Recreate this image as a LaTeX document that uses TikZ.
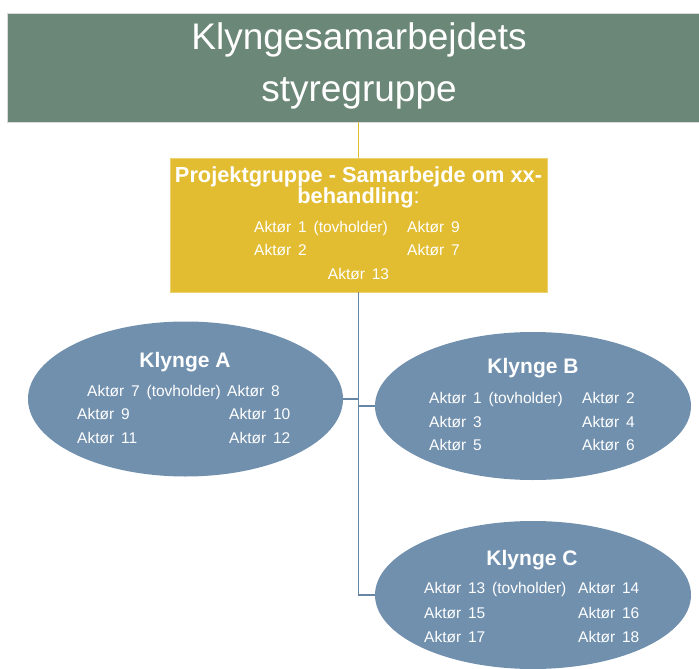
\documentclass[tikz,border=0pt]{standalone}
\usepackage{fontspec}
\setmainfont{Liberation Sans}
\newfontfamily\memberfont[WordSpace=1.6]{Liberation Sans}
\usetikzlibrary{shapes.geometric}
\definecolor{bannergreen}{HTML}{6B8777}
\definecolor{projyellow}{HTML}{E2BD32}
\definecolor{clusterblue}{HTML}{7090AE}
\definecolor{linkblue}{HTML}{6686A6}
\tikzset{
  banner/.style={rectangle, fill=bannergreen, draw=black!15, line width=0.6pt, inner sep=0},
  projbox/.style={rectangle, fill=projyellow, draw=projyellow!70!white, line width=0.6pt, inner sep=0},
  cluster/.style={ellipse, fill=clusterblue, draw=none, inner sep=0},
  titletext/.style={text=white, inner sep=0, anchor=base, font=\fontsize{37}{37}\selectfont},
  headtext/.style={text=white, inner sep=0, anchor=base, font=\bfseries\fontsize{21.8}{21.8}\selectfont},
  clustertitle/.style={text=white, inner sep=0, anchor=base, font=\bfseries\fontsize{21}{21}\selectfont},
  member/.style={text=white, inner sep=0, anchor=base west, font=\memberfont\fontsize{15.5}{15.5}\selectfont},
  yellowlink/.style={draw=projyellow, line width=1.8pt},
  bluelink/.style={draw=linkblue, line width=1.8pt},
}
\begin{document}
\begin{tikzpicture}[x=1pt,y=-1pt]
\useasboundingbox (0,0) rectangle (699,669);

% steering group banner
\node[banner, minimum width=702pt, minimum height=109pt] (board) at (358.5,67.5) {};
\node[titletext] (title1) at (359,50) {Klyngesamarbejdets};
\node[titletext] (title2) at (359,101) {styregruppe};

% project group box
\node[projbox, minimum width=377pt, minimum height=134pt] (proj) at (358.5,225) {};
\node[headtext] (head1) at (358.5,182) {Projektgruppe - Samarbejde om xx-};
\node[headtext] (head2) at (358.5,203) {behandling\mdseries:};
\node[member] (p1) at (254,232) {Aktør 1 (tovholder)};
\node[member] (p9) at (407,232) {Aktør 9};
\node[member] (p2) at (254,255) {Aktør 2};
\node[member] (p7) at (407,255) {Aktør 7};
\node[member, anchor=base] (p13) at (358.5,279) {Aktør 13};

% clusters
\node[cluster, minimum width=315pt, minimum height=155pt] (A) at (185.5,399) {};
\node[cluster, minimum width=316pt, minimum height=148pt] (B) at (533,406) {};
\node[cluster, minimum width=316pt, minimum height=148pt] (C) at (533,595) {};

% connectors
\draw[yellowlink] (board.south) -- (proj.north);
\draw[bluelink] (proj.south) |- (C.west);
\draw[bluelink] (A.east) -- (A.east -| proj.south);
\draw[bluelink] (B.west) -- (B.west -| proj.south);

% cluster A
\node[clustertitle] (tA) at (185,367) {Klynge A};
\node[member] (a7) at (87,396) {Aktør 7 (tovholder)};
\node[member] (a8) at (227,396) {Aktør 8};
\node[member] (a9) at (77,419) {Aktør 9};
\node[member] (a10) at (229,419) {Aktør 10};
\node[member] (a11) at (77,443) {Aktør 11};
\node[member] (a12) at (229,443) {Aktør 12};

% cluster B
\node[clustertitle] (tB) at (533,373) {Klynge B};
\node[member] (b1) at (429,403) {Aktør 1 (tovholder)};
\node[member] (b2) at (582,403) {Aktør 2};
\node[member] (b3) at (429,427) {Aktør 3};
\node[member] (b4) at (582,427) {Aktør 4};
\node[member] (b5) at (429,450) {Aktør 5};
\node[member] (b6) at (582,450) {Aktør 6};

% cluster C
\node[clustertitle] (tC) at (532,565) {Klynge C};
\node[member] (c13) at (424,593) {Aktør 13 (tovholder)};
\node[member] (c14) at (578,593) {Aktør 14};
\node[member] (c15) at (424,618) {Aktør 15};
\node[member] (c16) at (578,618) {Aktør 16};
\node[member] (c17) at (424,642) {Aktør 17};
\node[member] (c18) at (578,642) {Aktør 18};
\end{tikzpicture}
\end{document}
